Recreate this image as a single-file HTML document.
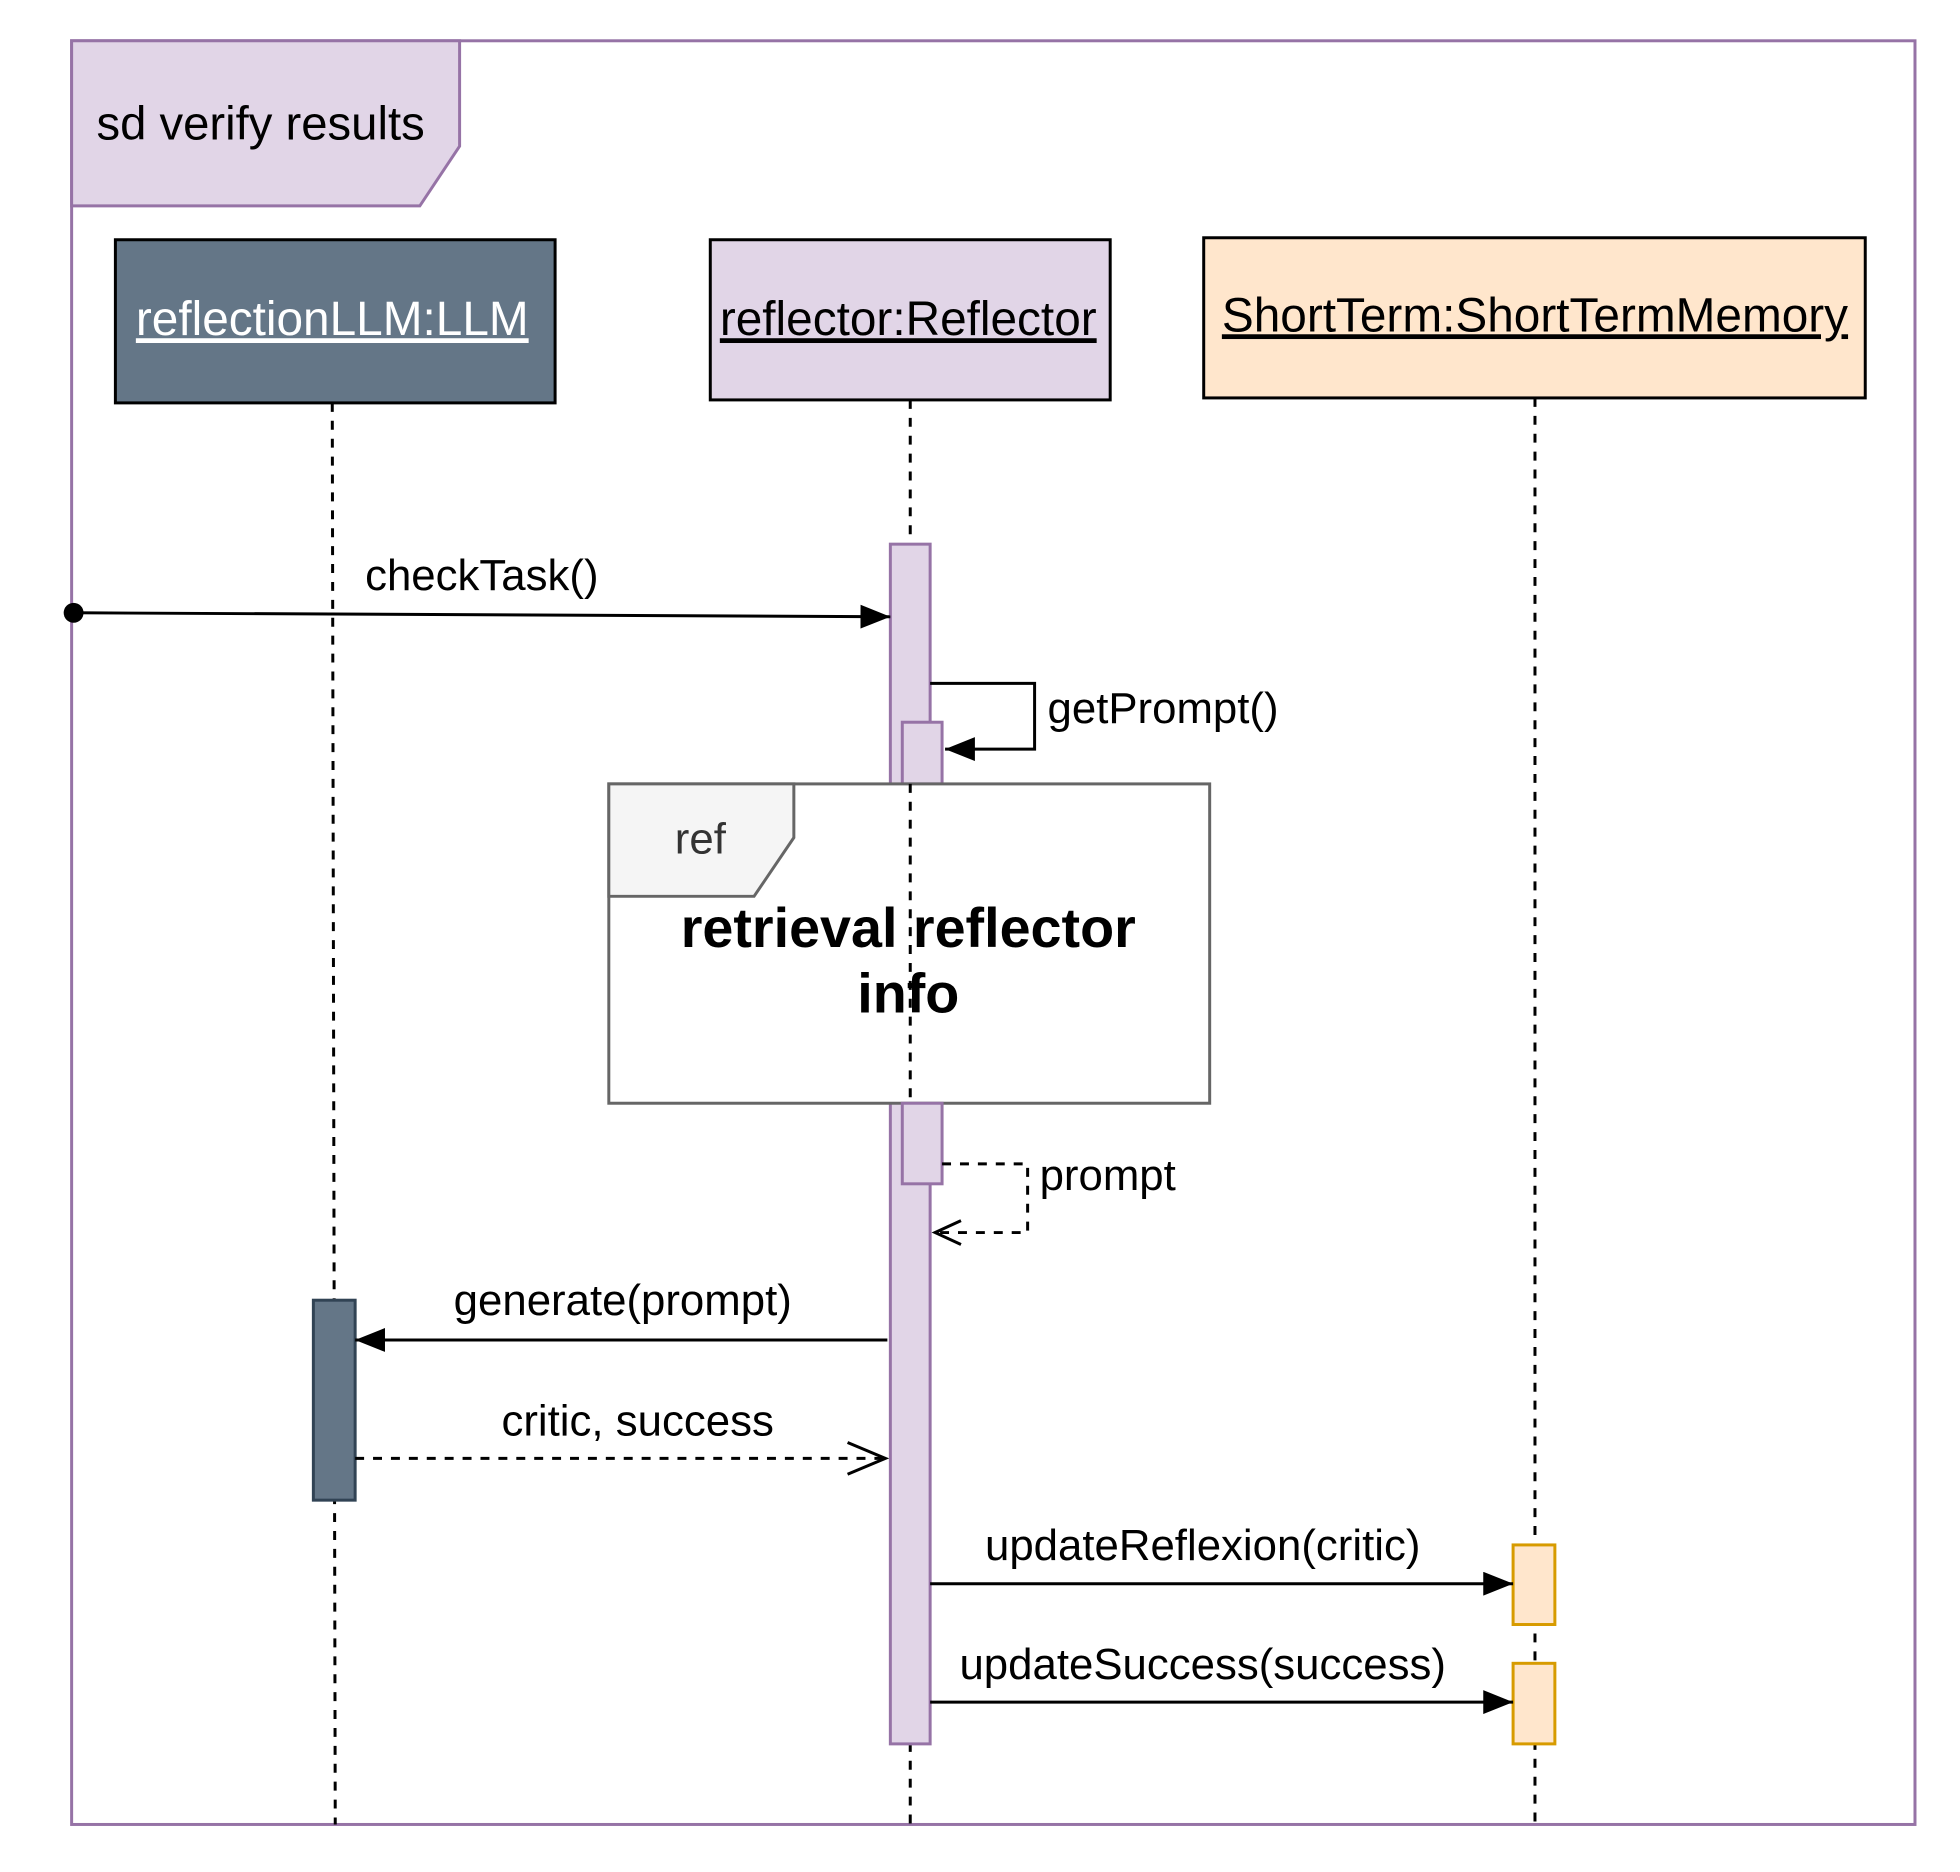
<!DOCTYPE html>
<html><head><meta charset="utf-8"><style>html,body{margin:0;padding:0;background:#fff}svg{display:block}</style></head>
<body>
<svg width="1960" height="1872" viewBox="0 0 1960 1872" xmlns="http://www.w3.org/2000/svg" font-family="Liberation Sans, Arial, sans-serif">
<defs>
<marker id="fa" viewBox="0 0 30 24" refX="30" refY="12" markerWidth="30" markerHeight="24" markerUnits="userSpaceOnUse" orient="auto"><path d="M0,0 L30,12 L0,24 z" fill="#000"/></marker>
</defs>
<rect width="1960" height="1872" fill="#fff"/>
<g transform="scale(0.9948)">
<rect x="72" y="41" width="1853" height="1793" fill="none" stroke="#9673a6" stroke-width="3"/>
<path d="M72,41 L462,41 L462,147 L422,207 L72,207 Z" fill="#e1d5e7" stroke="#9673a6" stroke-width="3"/>
<text x="97" y="140" font-size="47.5" fill="#000">sd verify results</text>
<g stroke="#000" stroke-width="3" stroke-dasharray="9,9" fill="none">
<line x1="334" y1="405" x2="337" y2="1834"/>
<line x1="915" y1="402" x2="915" y2="1834"/>
<line x1="1543" y1="400" x2="1543" y2="1834"/>
</g>
<rect x="116" y="241" width="442" height="164" fill="#647687" stroke="#000" stroke-width="3"/>
<text x="334" y="337" font-size="48" fill="#fff" text-anchor="middle" text-decoration="underline">reflectionLLM:LLM</text>
<rect x="714" y="241" width="402" height="161" fill="#e1d5e7" stroke="#000" stroke-width="3"/>
<text x="913" y="337" font-size="48" fill="#000" text-anchor="middle" text-decoration="underline">reflector:Reflector</text>
<rect x="1210" y="239" width="665" height="161" fill="#ffe6cc" stroke="#000" stroke-width="3"/>
<text x="1543" y="333" font-size="48" fill="#000" text-anchor="middle" text-decoration="underline">ShortTerm:ShortTermMemory</text>
<rect x="895" y="547" width="40" height="1206" fill="#e1d5e7" stroke="#9673a6" stroke-width="3"/>
<rect x="907" y="726" width="40" height="62" fill="#e1d5e7" stroke="#9673a6" stroke-width="3"/>
<circle cx="74" cy="616" r="10" fill="#000"/>
<line x1="74" y1="616" x2="895" y2="620" stroke="#000" stroke-width="3" marker-end="url(#fa)"/>
<text x="367" y="593" font-size="44">checkTask()</text>
<polyline points="935,687 1040,687 1040,753 950,753" fill="none" stroke="#000" stroke-width="3" marker-end="url(#fa)"/>
<text x="1053" y="727" font-size="44">getPrompt()</text>
<rect x="612" y="788" width="604" height="321" fill="#fff" stroke="#666" stroke-width="3"/>
<path d="M612,788 L798,788 L798,842 L758,901 L612,901 Z" fill="#f5f5f5" stroke="#666" stroke-width="3"/>
<text x="704" y="858" font-size="44" fill="#333" text-anchor="middle">ref</text>
<text x="913" y="952" font-size="56" font-weight="bold" text-anchor="middle">retrieval reflector</text>
<text x="913" y="1018" font-size="56" font-weight="bold" text-anchor="middle">info</text>
<line x1="915" y1="788" x2="915" y2="1109" stroke="#000" stroke-width="3" stroke-dasharray="9,9"/>
<rect x="907" y="1109" width="40" height="81" fill="#e1d5e7" stroke="#9673a6" stroke-width="3"/>
<polyline points="947,1170 1033,1170 1033,1239 940,1239" fill="none" stroke="#000" stroke-width="3" stroke-dasharray="9,9"/>
<polyline points="966,1227 940,1239 966,1251" fill="none" stroke="#000" stroke-width="3"/>
<text x="1045" y="1196" font-size="44">prompt</text>
<rect x="315" y="1307" width="42" height="201" fill="#647687" stroke="#314354" stroke-width="3"/>
<line x1="892" y1="1347" x2="357" y2="1347" stroke="#000" stroke-width="3" marker-end="url(#fa)"/>
<text x="626" y="1322" font-size="44" text-anchor="middle">generate(prompt)</text>
<line x1="357" y1="1466" x2="890" y2="1466" stroke="#000" stroke-width="3" stroke-dasharray="9,9"/>
<polyline points="852,1450 890,1466 852,1482" fill="none" stroke="#000" stroke-width="3"/>
<text x="641" y="1443" font-size="44" text-anchor="middle">critic, success</text>
<rect x="1521" y="1553" width="42" height="80" fill="#ffe6cc" stroke="#d79b00" stroke-width="3"/>
<rect x="1521" y="1672" width="42" height="81" fill="#ffe6cc" stroke="#d79b00" stroke-width="3"/>
<line x1="935" y1="1592" x2="1521" y2="1592" stroke="#000" stroke-width="3" marker-end="url(#fa)"/>
<text x="1209" y="1568" font-size="44" text-anchor="middle">updateReflexion(critic)</text>
<line x1="935" y1="1711" x2="1521" y2="1711" stroke="#000" stroke-width="3" marker-end="url(#fa)"/>
<text x="1209" y="1688" font-size="44" text-anchor="middle">updateSuccess(success)</text>
</g>
</svg>
</body></html>
